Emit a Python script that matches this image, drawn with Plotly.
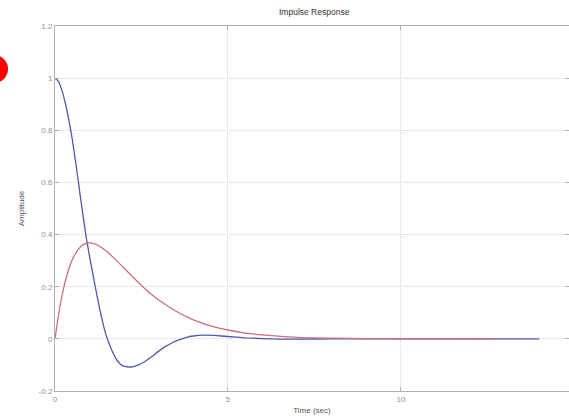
import plotly.graph_objects as go

# ---- data ----
t_blue = [0, 0.1, 0.2, 0.3, 0.4, 0.5, 0.6, 0.7, 0.8, 0.9, 1.0, 1.1, 1.2, 1.3, 1.4, 1.5,
          1.6, 1.7, 1.8, 1.9, 2.0, 2.2, 2.4, 2.6, 2.8, 3.0, 3.2, 3.4, 3.6, 3.8, 4.0,
          4.3, 4.6, 5.0, 5.5, 6.0, 6.5, 7.0, 8.0, 10.0, 12.0, 14.0]
y_blue = [1.0, 0.988, 0.953, 0.903, 0.84, 0.765, 0.675, 0.578, 0.482, 0.392, 0.315, 0.245,
          0.175, 0.11, 0.052, 0.005, -0.03, -0.06, -0.083, -0.098, -0.105, -0.108, -0.101,
          -0.087, -0.068, -0.047, -0.029, -0.014, -0.003, 0.006, 0.011, 0.014, 0.013,
          0.009, 0.004, 0.001, -0.001, -0.001, 0.0, 0.0, 0.0, 0.0]

t_red = [0, 0.1, 0.2, 0.3, 0.4, 0.5, 0.6, 0.75, 0.9, 1.0, 1.1, 1.25, 1.5, 1.75, 2.0, 2.25,
         2.5, 2.75, 3.0, 3.5, 4.0, 4.5, 5.0, 5.5, 6.0, 7.0, 8.0, 9.0, 10.0, 12.7]
y_red = [0.0, 0.09, 0.164, 0.222, 0.268, 0.303, 0.329, 0.354, 0.366, 0.368, 0.366, 0.358,
         0.335, 0.304, 0.271, 0.237, 0.205, 0.175, 0.149, 0.106, 0.073, 0.05, 0.034,
         0.022, 0.015, 0.006, 0.003, 0.001, 0.0005, 0.0]

x_ticks = [0, 5, 10]
y_ticks = [-0.2, 0, 0.2, 0.4, 0.6, 0.8, 1.0, 1.2]
y_tick_labels = ["-0.2", "0", "0.2", "0.4", "0.6", "0.8", "1", "1.2"]

title_text = "Impulse Response"
x_title = "Time (sec)"
y_title = "Amplitude"

FONT = "Liberation Sans, Arial, Helvetica, sans-serif"
AXIS_GRAY = "#b0b0b0"
GRID_GRAY = "#d4d4d4"

fig = go.Figure()
fig.add_trace(go.Scatter(x=t_blue, y=y_blue, mode="lines",
                         line=dict(color="#5558a8", width=1.3, shape="spline", smoothing=0.4),
                         showlegend=False, hoverinfo="skip"))
fig.add_trace(go.Scatter(x=t_red, y=y_red, mode="lines",
                         line=dict(color="#c8707e", width=1.3, shape="spline", smoothing=0.5),
                         showlegend=False, hoverinfo="skip"))

fig.update_layout(
    width=569, height=418,
    margin=dict(l=55, r=0, t=26, b=27),
    paper_bgcolor="white", plot_bgcolor="white",
    font=dict(family=FONT, size=8, color="#808080"),
    showlegend=False,
)

fig.update_xaxes(
    range=[0, 14.86], tickvals=x_ticks, ticktext=[str(v) for v in x_ticks],
    showgrid=True, gridcolor=GRID_GRAY, griddash="1px,1px", gridwidth=1,
    zeroline=False, showline=True, linecolor=AXIS_GRAY, linewidth=1, mirror="ticks",
    ticks="inside", ticklen=4, tickcolor=AXIS_GRAY,
    tickfont=dict(family=FONT, size=8, color="#8f8f8f"),
    title=dict(text=x_title, font=dict(family=FONT, size=8, color="#555555"), standoff=4),
)
fig.update_yaxes(
    range=[-0.2, 1.2], tickvals=y_ticks, ticktext=y_tick_labels,
    showgrid=True, gridcolor=GRID_GRAY, griddash="1px,1px", gridwidth=1,
    zeroline=False, showline=True, linecolor=AXIS_GRAY, linewidth=1, mirror="ticks",
    ticks="inside", ticklen=4, tickcolor=AXIS_GRAY,
    tickfont=dict(family=FONT, size=8, color="#8f8f8f"),
    title=dict(text=y_title, font=dict(family=FONT, size=8, color="#555555"), standoff=12),
)

fig.add_annotation(text=title_text, xref="paper", yref="paper", x=0.505, y=1.0,
                   yshift=7, showarrow=False, yanchor="bottom",
                   font=dict(family=FONT, size=8.5, color="#333333"))

# red mark partly visible at the left edge of the image
fig.add_shape(type="circle", xref="paper", yref="paper",
              x0=-0.146, x1=-0.0914, y0=0.8438, y1=0.9205,
              fillcolor="#ff0000", line=dict(color="#ff0000", width=0), layer="above")

fig.write_html("out.html")
